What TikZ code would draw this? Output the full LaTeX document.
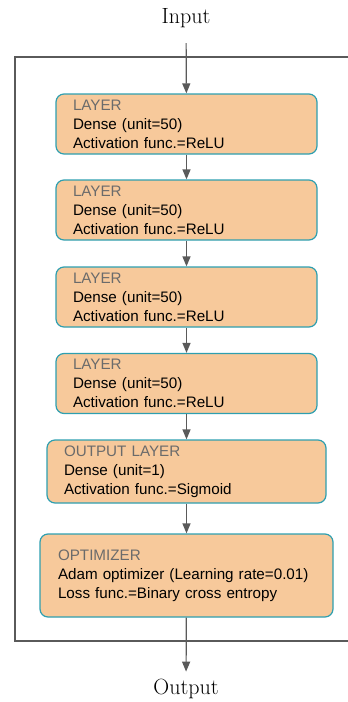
\documentclass[tikz,border=0pt]{standalone}
\usepackage{fontspec}
\setsansfont{Liberation Sans}
\usetikzlibrary{arrows.meta}
\definecolor{boxfill}{HTML}{F7C99B}
\definecolor{boxedge}{HTML}{2E9FB0}
\definecolor{headgray}{HTML}{6B6B6B}
\definecolor{linegray}{HTML}{5A5A5A}
\tikzset{
  layerbox/.style={draw=boxedge, fill=boxfill, line width=1.2pt, rounded corners=8pt,
    font=\sffamily\fontsize{15.2}{19}\selectfont, align=left, inner xsep=17pt, inner ysep=0pt},
  flow/.style={draw=linegray, line width=1.2pt, -{Triangle[width=8pt,length=10pt]}}
}
\newcommand{\layertext}[3]{{\color{headgray}#1}\\#2\\#3}

\begin{document}
\begin{tikzpicture}[x=1pt,y=-1pt]
			\useasboundingbox (0,0) rectangle (348,702);
			\draw[linegray,line width=1.2pt](348,57) -- (15,57) -- (15,641) -- (348,641);
			\node[font=\fontsize{22}{24}\selectfont](in) at(186,18){Input};
			\node[font=\fontsize{22}{24}\selectfont](out) at(186,689){Output};
			\node[layerbox, text width=227pt, minimum height=60pt](l1) at(186.5,124){\layertext{LAYER}{Dense (unit=50)}{Activation func.=ReLU}};
			\node[layerbox, text width=227pt, minimum height=60pt](l2) at(186.5,210){\layertext{LAYER}{Dense (unit=50)}{Activation func.=ReLU}};
			\node[layerbox, text width=227pt, minimum height=60pt](l3) at(186.5,297){\layertext{LAYER}{Dense (unit=50)}{Activation func.=ReLU}};
			\node[layerbox, text width=227pt, minimum height=60pt](l4) at(186.5,383.5){\layertext{LAYER}{Dense (unit=50)}{Activation func.=ReLU}};
			\node[layerbox, text width=245pt, minimum height=63pt](ol) at(186.5,471.5){\layertext{OUTPUT LAYER}{Dense (unit=1)}{Activation func.=Sigmoid}};
			\node[layerbox, text width=257pt, minimum height=83pt, inner xsep=18pt](opt) at(186.5,575.5){\layertext{OPTIMIZER}{Adam optimizer (Learning rate=0.01)}{Loss func.=Binary cross entropy}};
			
			\draw[flow, shorten <=12pt](in) -- (l1);
			\draw[flow](l1) -- (l2);
			\draw[flow](l2) -- (l3);
			\draw[flow](l3) -- (l4);
			\draw[flow](l4) -- (ol);
			\draw[flow](ol) -- (opt);
			\draw[flow, shorten >=4pt](opt) -- (out);
		\end{tikzpicture}
\end{document}
